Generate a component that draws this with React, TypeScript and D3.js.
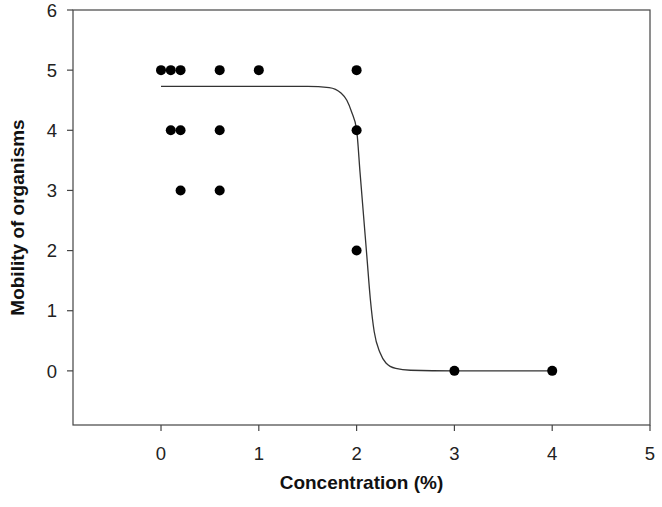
import React from 'react';
import * as d3 from 'd3';

// observed points: concentration (%) vs mobility score
const concX = [0, 0.1, 0.2, 0.6, 1.0, 2.0, 0.1, 0.2, 0.6, 2.0, 0.2, 0.6, 2.0, 3.0, 4.0];
const mobilityY = [5, 5, 5, 5, 5, 5, 4, 4, 4, 4, 3, 3, 2, 0, 0];

// fitted sigmoid
const fitX = [0, 0.5, 1.0, 1.5, 1.72, 1.84, 1.9, 1.95, 2.0, 2.035, 2.07, 2.105, 2.14, 2.18, 2.24, 2.3, 2.4, 2.55, 3.0, 4.0];
const fitY = [4.73, 4.73, 4.73, 4.73, 4.71, 4.62, 4.5, 4.3, 4.01, 3.3, 2.6, 1.9, 1.2, 0.65, 0.3, 0.13, 0.04, 0.01, 0, 0];

const xTicks = [0, 1, 2, 3, 4, 5];
const yTicks = [0, 1, 2, 3, 4, 5, 6];

const W = 662;
const H = 507;
const margin = { top: 10, right: 12, bottom: 82, left: 73 };
const font = 'Arial, "Liberation Sans", sans-serif';

export default function App() {
  const x = d3.scaleLinear().domain([-0.9, 5]).range([margin.left, W - margin.right]);
  const y = d3.scaleLinear().domain([-0.9, 6]).range([H - margin.bottom, margin.top]);
  const x0 = margin.left;
  const x1 = W - margin.right;
  const y0 = H - margin.bottom;
  const y1 = margin.top;

  const line = d3
    .line<number>()
    .x((d, i) => x(fitX[i]))
    .y(d => y(d))
    .curve(d3.curveMonotoneX);

  return (
    <svg
      width={W}
      height={H}
      style={{ position: 'absolute', left: 0, top: 0, background: '#fff' }}
      fontFamily={font}
    >
      <rect x={x0} y={y1} width={x1 - x0} height={y0 - y1} fill="none" stroke="#444" strokeWidth={1.2} />

      {yTicks.map(t => (
        <g key={'y' + t}>
          <line x1={x0 - 6} x2={x0} y1={y(t)} y2={y(t)} stroke="#444" strokeWidth={1.2} />
          <text x={x0 - 16} y={y(t)} dy="0.36em" textAnchor="end" fontSize={18.5} fill="#222">
            {t}
          </text>
        </g>
      ))}
      {xTicks.map(t => (
        <g key={'x' + t}>
          <line x1={x(t)} x2={x(t)} y1={y0} y2={y0 + 6} stroke="#444" strokeWidth={1.2} />
          <text x={x(t)} y={460} textAnchor="middle" fontSize={18.5} fill="#222">
            {t}
          </text>
        </g>
      ))}

      <path d={line(fitY) || ''} fill="none" stroke="#333" strokeWidth={1.3} />

      {concX.map((c, i) => (
        <circle key={i} cx={x(c)} cy={y(mobilityY[i])} r={5} fill="#000" />
      ))}

      <text x={(x0 + x1) / 2} y={489} textAnchor="middle" fontSize={19} fontWeight="bold" fill="#111">
        Concentration (%)
      </text>
      <text
        transform={`translate(24,${(y0 + y1) / 2}) rotate(-90)`}
        textAnchor="middle"
        fontSize={19}
        fontWeight="bold"
        fill="#111"
      >
        Mobility of organisms
      </text>
    </svg>
  );
}
